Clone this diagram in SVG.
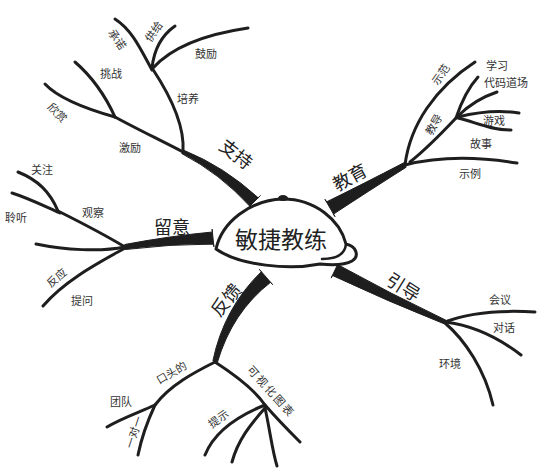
<svg xmlns="http://www.w3.org/2000/svg" width="547" height="472" viewBox="0 0 547 472">
<defs>
<style>
.br{fill:none;stroke:#1e1e1e;stroke-width:3;stroke-linecap:round;stroke-linejoin:round}
.main{fill:#1e1e1e;stroke:#1e1e1e;stroke-width:1;stroke-linejoin:round}
.lbl{font-family:"Noto Sans CJK SC","Noto Sans",sans-serif;font-size:11px;fill:#333;text-anchor:middle;dominant-baseline:central}
.big{font-size:18px;fill:#222}
.ctr{font-size:23px;fill:#222}
</style>
</defs>
<rect width="547" height="472" fill="#ffffff"/>
<g id="connectors">
<!-- main branches -->
<path class="main" d="M184.2 150.4 Q224.3 166.7 258.2 197.8 L260.4 195.6 L247.6 208.4 L249.8 206.2 Q219.7 173.3 181.8 153.6 Z"/>
<path class="main" d="M406.2 167.2 Q367.2 191.9 333.5 214.1 L335 216.7 L325 199.3 L326.5 201.9 Q362.8 184.1 403.8 162.8 Z"/>
<path class="main" d="M124.7 244.5 Q169.6 236 212.4 232 L212.1 229.1 L213.9 246.9 L213.6 244 Q170.4 244 125.3 249.5 Z"/>
<path class="main" d="M444.1 323.8 Q388.3 301.6 332.4 275.4 L331.2 278.1 L338.8 261.9 L337.6 264.6 Q391.7 294.4 445.9 320.2 Z"/>
<path class="main" d="M212.9 360.7 Q224.1 307.7 261.4 271.7 L259.4 269.4 L272.6 284.6 L270.6 282.3 Q231.9 312.3 217.1 363.3 Z"/>
<!-- 支持 -->
<path class="br" d="M183 152 C185 125 170 95 152 68"/>
<path class="br" d="M152 70 C140 48 132 30 115 19"/>
<path class="br" d="M152 68 Q155 40 175 26"/>
<path class="br" d="M153 68 Q180 38 248 28"/>
<path class="br" d="M183 152 C160 140 135 128 115 117"/>
<path class="br" d="M115 117 C105 95 90 75 75 62"/>
<path class="br" d="M115 117 C90 110 60 100 45 84"/>
<!-- 教育 -->
<path class="br" d="M405 165 C410 125 435 88 475 62"/>
<path class="br" d="M410 162 C425 150 440 135 456 118"/>
<path class="br" d="M456 118 C462 100 468 88 478 77"/>
<path class="br" d="M458 116 C470 104 482 97 497 92"/>
<path class="br" d="M458 117 C478 112 500 110 519 113"/>
<path class="br" d="M458 118 C475 122 490 130 511 130"/>
<path class="br" d="M405 165 C440 156 480 157 517 163"/>
<!-- 留意 -->
<path class="br" d="M125 247 C100 232 80 222 58 211"/>
<path class="br" d="M58 211 C50 192 38 180 18 172"/>
<path class="br" d="M60 213 C42 205 28 198 12 193"/>
<path class="br" d="M125 247 C100 252 65 250 36 244"/>
<path class="br" d="M125 248 C100 262 65 280 43 306"/>
<!-- 引导 -->
<path class="br" d="M445 322 C470 312 500 310 535 312"/>
<path class="br" d="M445 322 C470 325 495 335 521 355"/>
<path class="br" d="M445 323 C465 340 485 370 493 405"/>
<!-- 反馈 -->
<path class="br" d="M215 362 C195 372 170 385 155 405"/>
<path class="br" d="M155 405 C140 412 122 418 107 427"/>
<path class="br" d="M155 405 C148 420 142 435 138 455"/>
<path class="br" d="M215 362 C235 375 255 390 265 405 C278 420 290 432 300 442"/>
<path class="br" d="M265 405 C240 415 215 430 205 455"/>
<path class="br" d="M265 408 C250 425 238 440 232 462"/>
<path class="br" d="M265 408 C270 430 272 450 277 466"/>
</g>
<g id="node-center">
<path d="M216 249 C222 222 250 200 283 199 C315 199 340 220 346 244 C356 246 360 256 352 261 C345 265 330 265 320 264 C290 270 240 266 216 249 Z" fill="#fff" stroke="#1e1e1e" stroke-width="3" stroke-linejoin="round"/>
<path d="M322 259 C335 259 345 255 346 244" fill="none" stroke="#1e1e1e" stroke-width="2.5" stroke-linecap="round"/>
<ellipse cx="283" cy="198" rx="5" ry="3" fill="#1e1e1e"/>
<text class="lbl ctr" x="281" y="238">敏捷教练</text>
</g>
<g id="node-support"><text class="lbl big" transform="translate(237,153) rotate(38)">支持</text></g>
<g id="node-educate"><text class="lbl big" transform="translate(349,176) rotate(-29)">教育</text></g>
<g id="node-observe"><text class="lbl big" x="172" y="226">留意</text></g>
<g id="node-guide"><text class="lbl big" transform="translate(404,286) rotate(32)">引导</text></g>
<g id="node-feedback"><text class="lbl big" transform="translate(225,299) rotate(-50)">反馈</text></g>
<g id="node-commit"><text class="lbl" transform="translate(118,39) rotate(55)">承诺</text></g>
<g id="node-supply"><text class="lbl" transform="translate(153,31) rotate(-55)">供给</text></g>
<g id="node-encourage"><text class="lbl" x="206" y="53">鼓励</text></g>
<g id="node-challenge"><text class="lbl" x="111" y="73">挑战</text></g>
<g id="node-appreciate"><text class="lbl" transform="translate(58,112) rotate(45)">欣赏</text></g>
<g id="node-nurture"><text class="lbl" x="188" y="98">培养</text></g>
<g id="node-motivate"><text class="lbl" x="130" y="147">激励</text></g>
<g id="node-attend"><text class="lbl" x="42" y="169">关注</text></g>
<g id="node-listen"><text class="lbl" x="16" y="217">聆听</text></g>
<g id="node-watch"><text class="lbl" x="93" y="212">观察</text></g>
<g id="node-react"><text class="lbl" transform="translate(56,277) rotate(-40)">反应</text></g>
<g id="node-ask"><text class="lbl" x="82" y="300">提问</text></g>
<g id="node-demo"><text class="lbl" transform="translate(440,74) rotate(-55)">示范</text></g>
<g id="node-learn"><text class="lbl" x="497" y="65">学习</text></g>
<g id="node-dojo"><text class="lbl" x="506" y="82">代码道场</text></g>
<g id="node-teach"><text class="lbl" transform="translate(433,124) rotate(-60)">教导</text></g>
<g id="node-games"><text class="lbl" x="494" y="120">游戏</text></g>
<g id="node-stories"><text class="lbl" x="481" y="143">故事</text></g>
<g id="node-examples"><text class="lbl" x="470" y="173">示例</text></g>
<g id="node-meetings"><text class="lbl" x="500" y="299">会议</text></g>
<g id="node-conversations"><text class="lbl" x="504" y="327">对话</text></g>
<g id="node-environment"><text class="lbl" x="450" y="363">环境</text></g>
<g id="node-verbal"><text class="lbl" transform="translate(171,372) rotate(-30)">口头的</text></g>
<g id="node-team"><text class="lbl" x="121" y="401">团队</text></g>
<g id="node-oneonone"><text class="lbl" transform="translate(133,432) rotate(-72)">一对一</text></g>
<g id="node-charts"><text class="lbl" style="letter-spacing:2px" transform="translate(272,391) rotate(48)">可视化图表</text></g>
<g id="node-hints"><text class="lbl" transform="translate(218,418) rotate(-35)">提示</text></g>
</svg>
